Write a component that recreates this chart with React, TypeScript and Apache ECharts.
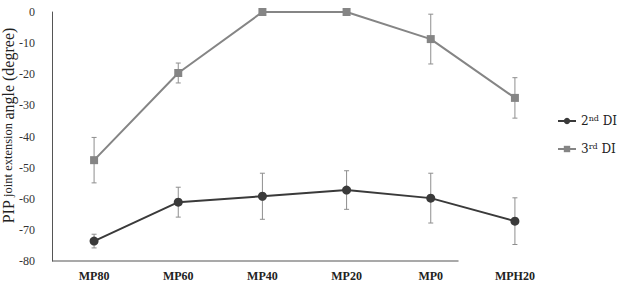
import React, { useEffect, useRef } from "react";
import * as echarts from "echarts";

// Finger positions along the x axis
const categories = ["MP80", "MP60", "MP40", "MP20", "MP0", "MPH20"];
// PIP joint extension angle (degree): means and standard deviations
const di2Mean = [-73.6, -61.1, -59.2, -57.2, -59.8, -67.2];
const di2Sd = [2.2, 4.8, 7.4, 6.2, 8.0, 7.5];
const di3Mean = [-47.6, -19.6, 0, 0, -8.7, -27.6];
const di3Sd = [7.3, 3.2, 0, 0, 8.0, 6.5];
const yTicks = { min: -80, max: 0, step: 10 };

const SERIF = "Liberation Serif";
const DARK = "#3a3a3a";
const GRAY = "#858585";
const ERR = "#8e8e8e";

function errorData(mean: number[], sd: number[]) {
  return mean
    .map((m, i) => (sd[i] > 0 ? [i, m - sd[i], m + sd[i]] : null))
    .filter((d) => d !== null) as number[][];
}

function errorSeries(mean: number[], sd: number[]) {
  return {
    type: "custom",
    silent: true,
    z: 1,
    data: errorData(mean, sd),
    encode: { x: 0, y: [1, 2] },
    renderItem: (params: any, api: any) => {
      const i = api.value(0);
      const lo = api.coord([i, api.value(1)]);
      const hi = api.coord([i, api.value(2)]);
      const cap = 2.5;
      const style = { stroke: ERR, lineWidth: 1 };
      return {
        type: "group",
        children: [
          { type: "line", shape: { x1: lo[0], y1: lo[1], x2: hi[0], y2: hi[1] }, style },
          { type: "line", shape: { x1: lo[0] - cap, y1: lo[1], x2: lo[0] + cap, y2: lo[1] }, style },
          { type: "line", shape: { x1: hi[0] - cap, y1: hi[1], x2: hi[0] + cap, y2: hi[1] }, style },
        ],
      };
    },
  };
}

export default function App() {
  const ref = useRef<HTMLDivElement>(null);

  useEffect(() => {
    document.body.style.margin = "0";
    if (!ref.current) return;
    const chart = echarts.init(ref.current, null, { renderer: "svg" });
    chart.setOption({
      animation: false,
      backgroundColor: "#ffffff",
      grid: { left: 52, top: 12, width: 505, height: 249, containLabel: false },
      legend: {
        orient: "vertical",
        left: 557,
        top: 114,
        padding: 0,
        itemGap: 14,
        itemWidth: 18,
        itemHeight: 8,
        data: ["2nd DI", "3rd DI"],
        formatter: (name: string) =>
          name.replace(/^(\d)(\w\w) (.*)$/, "{n|$1}{s|$2}{n| $3}"),
        textStyle: {
          rich: {
            n: { fontFamily: "DejaVu Serif", fontSize: 12, color: "#222", lineHeight: 16 },
            s: {
              fontFamily: "DejaVu Serif",
              fontSize: 8,
              color: "#222",
              lineHeight: 16,
              padding: [0, 0, 6, 0],
            },
          },
        },
      },
      xAxis: {
        type: "category",
        data: categories,
        boundaryGap: true,
        axisLine: { show: false },
        axisTick: { show: false },
        axisLabel: {
          margin: 9,
          fontFamily: SERIF,
          fontWeight: "bold",
          fontSize: 12,
          color: "#222",
        },
      },
      yAxis: {
        type: "value",
        min: yTicks.min,
        max: yTicks.max,
        interval: yTicks.step,
        splitLine: { show: false },
        axisTick: { show: false },
        axisLine: { show: true, lineStyle: { color: "#555", width: 1 } },
        axisLabel: { margin: 17, fontFamily: SERIF, fontSize: 12, color: "#333" },
      },
      series: [
        errorSeries(di2Mean, di2Sd),
        errorSeries(di3Mean, di3Sd),
        {
          name: "2nd DI",
          type: "line",
          z: 3,
          data: di2Mean,
          symbol: "circle",
          symbolSize: 9,
          itemStyle: { color: DARK },
          lineStyle: { color: DARK, width: 2 },
        },
        {
          name: "3rd DI",
          type: "line",
          z: 2,
          data: di3Mean,
          symbol: "rect",
          symbolSize: 8,
          itemStyle: { color: GRAY },
          lineStyle: { color: GRAY, width: 2 },
        },
      ],
    });

    // Baseline under the categories (stops short of the last category)
    const p0 = chart.convertToPixel({ gridIndex: 0 }, [0, yTicks.min]) as number[];
    const p1 = chart.convertToPixel({ gridIndex: 0 }, [1, yTicks.min]) as number[];
    const p4 = chart.convertToPixel({ gridIndex: 0 }, [4, yTicks.min]) as number[];
    const band = p1[0] - p0[0];
    const yTop = chart.convertToPixel({ gridIndex: 0 }, [0, yTicks.max]) as number[];
    chart.setOption({
      graphic: [
        {
          type: "line",
          shape: { x1: p0[0] - band / 2, y1: p0[1], x2: p4[0] + band * 0.33, y2: p0[1] },
          style: { stroke: "#555", lineWidth: 1.2 },
        },
        {
          type: "text",
          x: 8,
          y: (yTop[1] + p0[1]) / 2 - 11,
          rotation: Math.PI / 2,
          style: {
            text: "{a|PIP} {b|joint extension} {a|angle (degree)}",
            align: "center",
            verticalAlign: "middle",
            rich: {
              a: { fontFamily: SERIF, fontSize: 16, fill: "#222" },
              b: { fontFamily: SERIF, fontSize: 12.5, fill: "#222" },
            },
          },
        },
      ],
    });

    return () => chart.dispose();
  }, []);

  return <div ref={ref} style={{ width: 621, height: 284 }} />;
}
